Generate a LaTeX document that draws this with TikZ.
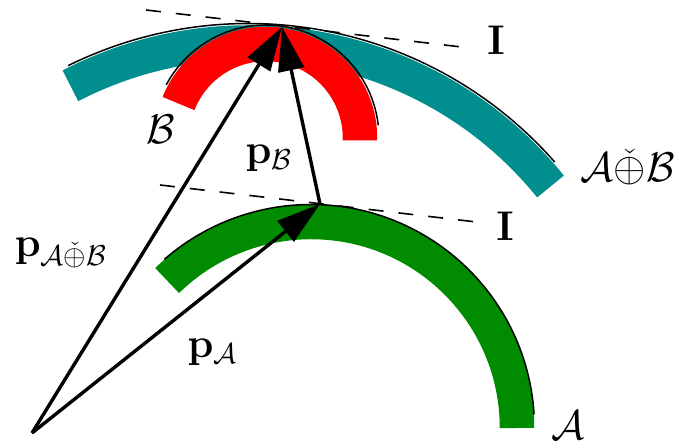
\documentclass[tikz,border=0pt]{standalone}
\usetikzlibrary{arrows.meta,calc}
\definecolor{tealband}{RGB}{0,142,142}
\definecolor{redband}{RGB}{255,0,0}
\definecolor{greenband}{RGB}{0,139,0}
\tikzset{
  band/.style={line width=17.25pt, line cap=butt},
  rim/.style={line width=0.75pt, black},
  support/.style={line width=0.8pt, dash pattern=on 7.5pt off 7.5pt},
  vec/.style={line width=1.7pt, -{Triangle[length=22pt,width=13pt]}},
  lbl/.style={inner sep=0pt, font=\fontsize{21.5}{26}\selectfont}
}
\begin{document}
\begin{tikzpicture}[x=0.5pt,y=0.5pt]
\useasboundingbox (0,0) rectangle (676,443);
% centres of the arcs
\coordinate (ct) at (248.6,12);
\coordinate (cr) at (266,305);
\coordinate (cg) at (311,15);
% bands
\draw[band, tealband] ($(ct)+(39:388.5)$) arc[start angle=39, end angle=117.3, radius=388.5];
\draw[band, redband] ($(cr)+(-1.5:94)$) arc[start angle=-1.5, end angle=158.5, radius=94];
\draw[band, greenband] ($(cg)+(0:206)$) arc[start angle=0, end angle=134.3, radius=206];
% rims
\draw[rim] ($(ct)+(41.3:407.5)$) arc[start angle=41.3, end angle=116.3, radius=407.5];
\draw[rim] ($(cr)+(6.5:113)$) arc[start angle=6.5, end angle=152, radius=113];
\draw[rim] ($(cg)+(3.5:223.5)$) arc[start angle=3.5, end angle=131, radius=223.5];
% points
\coordinate (O) at (32,10);
\coordinate (T) at (282,416);
\coordinate (PA) at (320,239);
\coordinate (d1a) at (146,433);
\coordinate (d1b) at (470,395);
\coordinate (d2a) at (160,258);
\coordinate (d2b) at (485,220);
% support lines
\draw[support] (d1a) -- (d1b);
\draw[support] (d2a) -- (d2b);
% vectors
\draw[vec] (O) -- (PA);
\draw[vec] (O) -- (T);
\draw[vec] (PA) -- (T);
% labels
\node[lbl] (I1) at (496,403) {$\mathbf{I}$};
\node[lbl] (I2) at (505,217) {$\mathbf{I}$};
\node[lbl] (lB) at (161,314) {$\mathcal{B}$};
\node[lbl] (lpB) at (269,285) {$\mathbf{p}_{\mathcal{B}}$};
\node[lbl, anchor=east] (lAB) at (675,276) {$\mathcal{A}\check{\oplus}\mathcal{B}$};
\node[lbl] (lpAB) at (61,190) {$\mathbf{p}_{\mathcal{A}\check{\oplus}\mathcal{B}}$};
\node[lbl] (lpA) at (212.5,90.5) {$\mathbf{p}_{\mathcal{A}}$};
\node[lbl] (lA) at (568.5,18) {$\mathcal{A}$};
\end{tikzpicture}
\end{document}
